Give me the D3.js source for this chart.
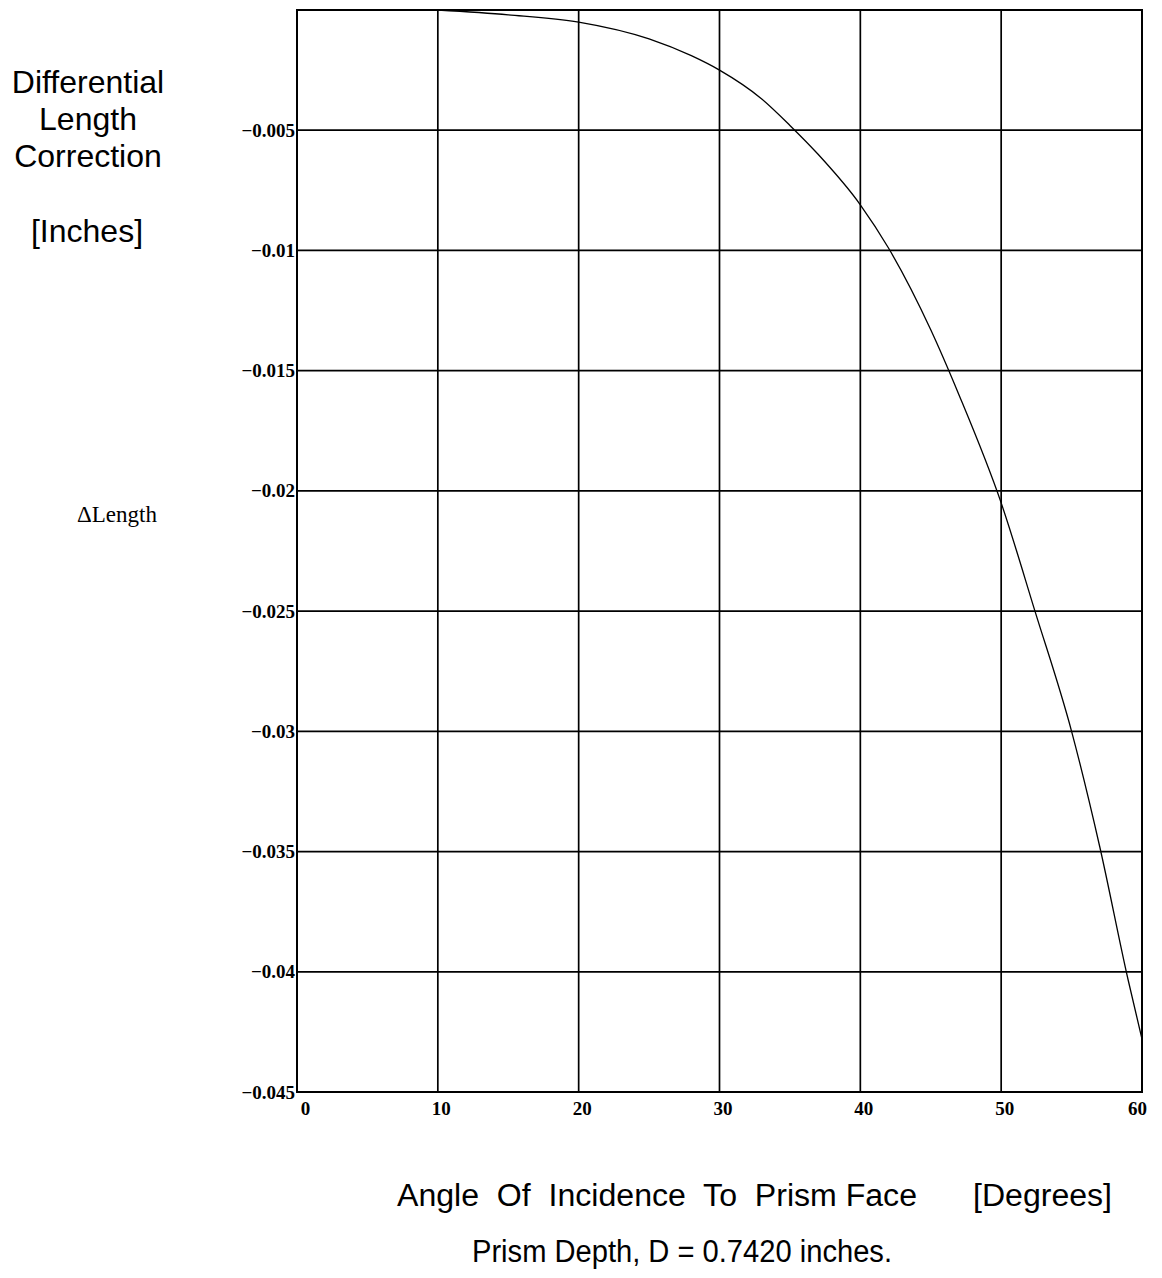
<!DOCTYPE html>
<html>
<head>
<meta charset="utf-8">
<script src="https://cdn.jsdelivr.net/npm/d3@7"></script>
<style>
  body { margin: 0; background: #fff; }
  svg { display: block; }
  .grid line { stroke: #000; stroke-width: 1.7; }
  .frame { fill: none; stroke: #000; stroke-width: 2; }
  .curve { fill: none; stroke: #000; stroke-width: 1.3; }
  .tick text { font-family: "Liberation Serif", "Times New Roman", serif; font-weight: bold; font-size: 19px; fill: #000; }
  .sans { font-family: "Liberation Sans", Arial, sans-serif; fill: #000; }
  .narrow { font-family: "Liberation Sans Narrow", "Arial Narrow", "Liberation Sans", Arial, sans-serif; fill: #000; white-space: pre; }
</style>
</head>
<body>
<svg id="chart" width="1162" height="1278"></svg>
<script>
// angle of incidence [degrees] vs differential length correction [inches]
const angles = [10, 15, 20, 25, 28, 30, 33, 35, 37, 40, 42, 45, 47, 50, 52.4, 55, 57, 59, 60];
const deltaLength = [0, -0.0002, -0.0005, -0.0012, -0.0019, -0.0025, -0.0037, -0.0048, -0.0060,
                     -0.0081, -0.0099, -0.0133, -0.0160, -0.0205, -0.025, -0.030, -0.0348, -0.0403, -0.0428];
const xTicks = [0, 10, 20, 30, 40, 50, 60];
const yTicks = [-0.005, -0.01, -0.015, -0.02, -0.025, -0.03, -0.035, -0.04, -0.045];
const yTitle = ["Differential", "Length", "Correction"];

const svg = d3.select("#chart");
const x = d3.scaleLinear().domain([0, 60]).range([297, 1142]);
const y = d3.scaleLinear().domain([-0.045, 0]).range([1092, 10]);

// grid
let grid = svg.append("g").attr("class", "grid");
grid.selectAll("line.v").data(xTicks.slice(1, -1)).join("line")
    .attr("class", "v")
    .attr("x1", d => x(d)).attr("x2", d => x(d))
    .attr("y1", y.range()[1]).attr("y2", y.range()[0]);
grid.selectAll("line.h").data(yTicks.slice(0, -1)).join("line")
    .attr("class", "h")
    .attr("x1", x.range()[0]).attr("x2", x.range()[1])
    .attr("y1", d => y(d)).attr("y2", d => y(d));

svg.append("rect").attr("class", "frame")
    .attr("x", x.range()[0]).attr("y", y.range()[1])
    .attr("width", x.range()[1] - x.range()[0])
    .attr("height", y.range()[0] - y.range()[1]);

// curve
let line = d3.line()
    .x((d, i) => x(angles[i]))
    .y(d => y(d))
    .curve(d3.curveMonotoneX);
svg.append("path").attr("class", "curve").attr("d", line(deltaLength));

// axes
let fmt = d3.format(".3~f");
let yAxis = svg.append("g")
    .attr("transform", `translate(${x.range()[0]},0)`)
    .call(d3.axisLeft(y).tickValues(yTicks).tickSize(0).tickPadding(2)
        .tickFormat(d => "\u2212" + fmt(-d)));
yAxis.select(".domain").remove();

let xAxis = svg.append("g")
    .attr("transform", `translate(0,${y.range()[0]})`)
    .call(d3.axisBottom(x).tickValues(xTicks).tickSize(0).tickPadding(10));
xAxis.select(".domain").remove();
xAxis.selectAll(".tick text")
    .attr("dx", d => d === 0 ? 8 : d === 60 ? -5 : 3);

// titles
svg.append("text").attr("class", "sans")
    .attr("font-size", 32).attr("text-anchor", "middle")
    .selectAll("tspan").data(yTitle).join("tspan")
    .attr("x", 88).attr("y", (d, i) => 93 + i * 37)
    .text(d => d);
svg.append("text").attr("class", "sans")
    .attr("font-size", 32).attr("text-anchor", "middle")
    .attr("x", 87).attr("y", 242).text("[Inches]");
svg.append("text")
    .attr("font-family", "'Liberation Serif', 'Times New Roman', serif")
    .attr("font-size", 23)
    .attr("x", 77).attr("y", 522).text("\u0394Length");

svg.append("text").attr("class", "narrow")
    .attr("font-size", 31)
    .attr("x", 397).attr("y", 1206)
    .attr("textLength", 520).attr("lengthAdjust", "spacingAndGlyphs")
    .text("Angle  Of  Incidence  To  Prism Face");
svg.append("text").attr("class", "narrow")
    .attr("font-size", 31)
    .attr("x", 973).attr("y", 1206)
    .attr("textLength", 139).attr("lengthAdjust", "spacingAndGlyphs")
    .text("[Degrees]");
svg.append("text").attr("class", "narrow")
    .attr("font-size", 31)
    .attr("x", 472).attr("y", 1262)
    .attr("textLength", 420).attr("lengthAdjust", "spacingAndGlyphs")
    .text("Prism Depth, D = 0.7420 inches.");
</script>
</body>
</html>
